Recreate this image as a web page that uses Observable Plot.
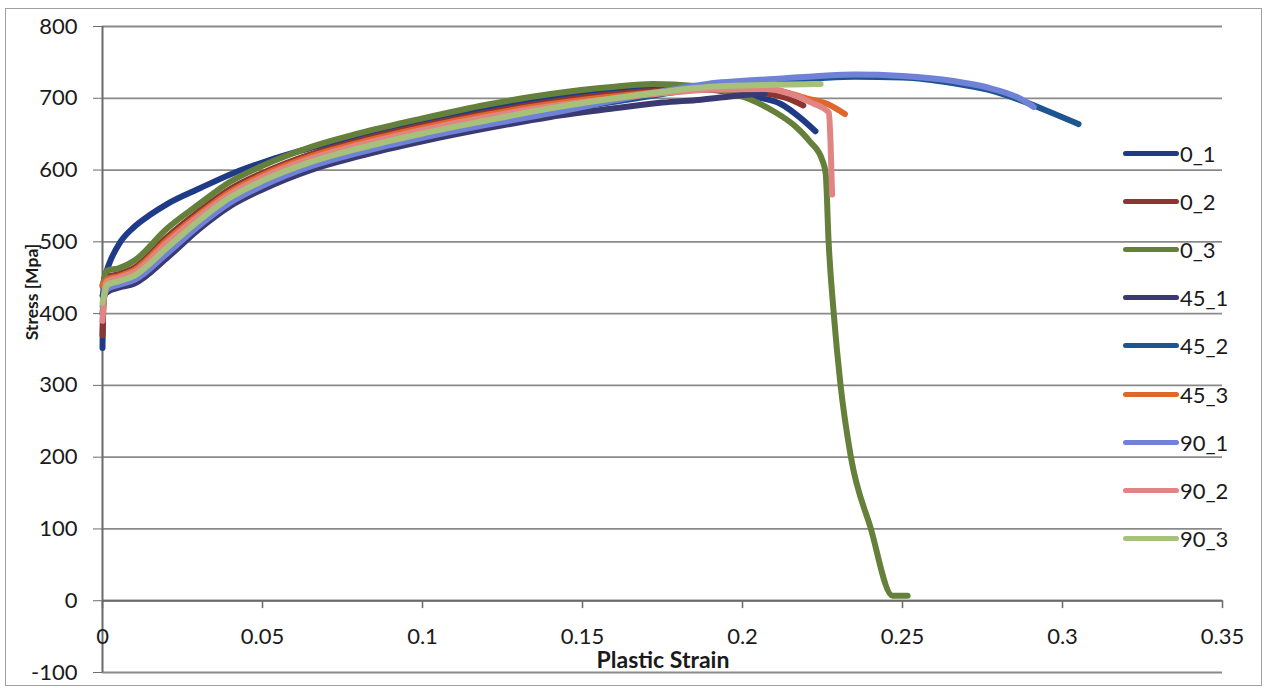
<!DOCTYPE html>
<html>
<head>
<meta charset="utf-8">
<script src="https://cdn.jsdelivr.net/npm/d3@7"></script>
<script src="https://cdn.jsdelivr.net/npm/@observablehq/plot@0.6"></script>
<style>
html, body { margin: 0; padding: 0; background: #fff; }
#wrap { position: relative; width: 1267px; height: 688px; overflow: hidden; font-family: Lato, "Open Sans", sans-serif; color: #1a1a1a; }
#frame { position: absolute; left: 5px; top: 8px; width: 1257px; height: 678px; border: 1.5px solid #a0a0a0; box-sizing: border-box; pointer-events: none; }
#chart { position: absolute; left: 0; top: 0; }
#ylab { position: absolute; left: 31px; top: 292px; transform: translate(-50%, -50%) rotate(-90deg); font-weight: bold; font-size: 17.5px; white-space: nowrap; }
#xlab { position: absolute; left: 663px; top: 659px; transform: translate(-50%, -50%); font-weight: bold; font-size: 23px; white-space: nowrap; }
.item { position: absolute; left: 1123px; height: 24px; display: flex; align-items: center; font-size: 22px; white-space: nowrap; }
.swatch { width: 56px; height: 5px; border-radius: 3px; margin-right: 1px; }
</style>
</head>
<body>
<div id="wrap">
  <div id="frame"></div>
  <div id="chart"></div>
  <div id="ylab">Stress [Mpa]</div>
  <div id="xlab">Plastic Strain</div>
  <div id="legend"></div>
</div>
<script>
// ---- data (strain, stress [MPa]) ----
const seriesNames = ["0_1", "0_2", "0_3", "45_1", "45_2", "45_3", "90_1", "90_2", "90_3"];
const seriesColors = ["#1f3b87", "#8c3533", "#64803a", "#3b3972", "#1e5590", "#e0672b", "#6f82d8", "#e08484", "#a7c07a"];

const s0_1 = [[0,352],[0.0004,444],[0.0012,458],[0.0025,474],[0.0056,500],[0.0097,520],[0.015,538],[0.0203,553],[0.0306,575],[0.041,596],[0.0516,613],[0.062,627],[0.08,647],[0.1,666],[0.12,684],[0.14,699],[0.16,709],[0.175,714],[0.19,712],[0.2025,703],[0.212,692],[0.218,673],[0.2228,654]];
const s0_2 = [[0,370],[0.0006,440],[0.0015,451],[0.005,455],[0.01,464],[0.02,506],[0.03,542],[0.04,574],[0.05,596],[0.065,622],[0.08,641],[0.1,662],[0.12,680],[0.14,695],[0.16,706],[0.175,711],[0.19,712],[0.205,708],[0.214,700],[0.219,690]];
const s0_3 = [[0,438],[0.0015,460],[0.005,463],[0.01,474],[0.02,518],[0.03,552],[0.04,584],[0.05,606],[0.065,632],[0.08,651],[0.1,672],[0.12,691],[0.14,706],[0.16,716],[0.172,720],[0.185,717],[0.1945,710],[0.2015,700],[0.2097,682],[0.217,659],[0.221,640],[0.225,613],[0.226,595],[0.2269,501],[0.2285,401],[0.2306,302],[0.2338,202],[0.24,102],[0.2469,7],[0.2516,7]];
const s45_1 = [[0,400],[0.0006,425],[0.0015,430],[0.005,436],[0.01,442],[0.02,477],[0.03,517],[0.04,550],[0.05,573],[0.065,600],[0.08,619],[0.1,640],[0.12,658],[0.14,674],[0.16,686],[0.175,694],[0.187,698],[0.199,704],[0.207,707]];
const s45_2 = [[0,425],[0.0008,436],[0.0015,438],[0.005,443],[0.01,450],[0.02,487],[0.03,526],[0.04,559],[0.05,581],[0.065,608],[0.08,627],[0.1,648],[0.12,666],[0.14,681],[0.16,695],[0.175,706],[0.19,716],[0.21,724],[0.224,728],[0.235,730],[0.25,729],[0.266,721],[0.2766,712],[0.287,697],[0.297,679],[0.305,664]];
const s45_3 = [[0,440],[0.0015,448],[0.005,452],[0.01,461],[0.02,502],[0.03,538],[0.04,570],[0.05,593],[0.065,619],[0.08,638],[0.1,659],[0.12,677],[0.14,692],[0.16,703],[0.175,709],[0.19,713],[0.2,714],[0.2097,712],[0.22,700],[0.2266,692],[0.232,678]];
const s90_1 = [[0,410],[0.0008,428],[0.0015,434],[0.005,440],[0.01,447],[0.02,483],[0.03,522],[0.04,555],[0.05,578],[0.065,605],[0.08,624],[0.1,645],[0.12,663],[0.14,679],[0.16,697],[0.175,710],[0.189,720],[0.21,727],[0.224,731],[0.235,733],[0.25,731],[0.266,724],[0.2766,715],[0.287,699],[0.291,688]];
const s90_2 = [[0,390],[0.0008,438],[0.0015,445],[0.005,450],[0.01,458],[0.02,498],[0.03,535],[0.04,567],[0.05,590],[0.065,616],[0.08,635],[0.1,656],[0.12,674],[0.14,689],[0.16,700],[0.175,707],[0.19,712],[0.208,713],[0.215,706],[0.222,693],[0.227,680],[0.2275,640],[0.228,566]];
const s90_3 = [[0,415],[0.0008,432],[0.0015,440],[0.005,445],[0.01,453],[0.02,491],[0.03,529],[0.04,562],[0.05,585],[0.065,611],[0.08,630],[0.1,651],[0.12,669],[0.14,686],[0.16,700],[0.175,709],[0.19,716],[0.21,719],[0.2244,720]];

const xTicks = [0, 0.05, 0.1, 0.15, 0.2, 0.25, 0.3, 0.35];
const xTickLabels = ["0", "0.05", "0.1", "0.15", "0.2", "0.25", "0.3", "0.35"];
const yTicks = [-100, 0, 100, 200, 300, 400, 500, 600, 700, 800];

// ---- build table ----
const allSeries = [s0_1, s0_2, s0_3, s45_1, s45_2, s45_3, s90_1, s90_2, s90_3];
const rows = [];
allSeries.forEach((pts, i) => pts.forEach(([strain, stress]) => rows.push({series: seriesNames[i], strain, stress})));

const chart = Plot.plot({
  width: 1267,
  height: 688,
  marginLeft: 102,
  marginRight: 45,
  marginTop: 26,
  marginBottom: 16,
  x: {domain: [0, 0.35], axis: null},
  y: {domain: [-100, 800], axis: null},
  color: {domain: seriesNames, range: seriesColors},
  style: {fontFamily: "Lato, 'Open Sans', sans-serif", fontSize: "22px", color: "#1a1a1a", background: "transparent"},
  marks: [
    Plot.ruleY(yTicks, {stroke: "#8a8a8a", strokeWidth: 1.8}),
    Plot.axisY({ticks: yTicks, tickSize: 9, tickPadding: 16, tickFormat: d => String(d), stroke: "#6e6e6e", fill: "#1a1a1a", fontSize: 22, label: null}),
    Plot.ruleX(xTicks, {y1: 0, y2: -11, stroke: "#6e6e6e", strokeWidth: 1.6}),
    Plot.ruleY([0], {stroke: "#6a6a6a", strokeWidth: 2}),
    Plot.ruleX([0], {stroke: "#6a6a6a", strokeWidth: 2}),
    Plot.text(xTicks, {x: d => d, y: 0, dy: 36, text: (d, i) => xTickLabels[i], fontSize: 22, fill: "#1a1a1a"}),
    Plot.line(rows, {x: "strain", y: "stress", z: "series", stroke: "series", strokeWidth: 6, curve: "monotone-x", strokeLinecap: "round", strokeLinejoin: "round"})
  ]
});
document.getElementById("chart").appendChild(chart);

// ---- legend ----
const legend = document.getElementById("legend");
seriesNames.forEach((name, i) => {
  const item = document.createElement("div");
  item.className = "item";
  item.style.top = (153 + i * 48.2 - 12) + "px";
  const sw = document.createElement("div");
  sw.className = "swatch";
  sw.style.background = seriesColors[i];
  const label = document.createElement("span");
  label.textContent = name;
  item.appendChild(sw);
  item.appendChild(label);
  legend.appendChild(item);
});
</script>
</body>
</html>
